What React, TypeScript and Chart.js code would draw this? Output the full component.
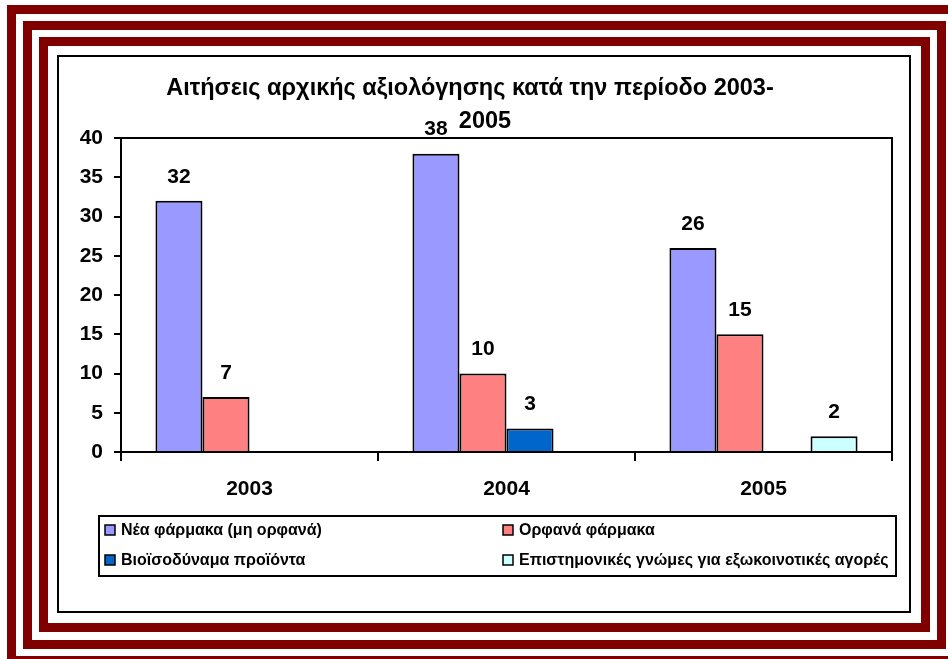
import React, { useEffect, useRef } from "react";
import { Chart, registerables } from "chart.js";

Chart.register(...registerables);

const categories = ["2003", "2004", "2005"];
const newDrugs = [32, 38, 26];
const orphanDrugs = [7, 10, 15];
const biosimilars = [0, 3, 0];
const scientificOpinions = [0, 0, 2];
const seriesLabels = [
  "Νέα φάρμακα (μη ορφανά)",
  "Ορφανά φάρμακα",
  "Βιοϊσοδύναμα προϊόντα",
  "Επιστημονικές γνώμες για εξωκοινοτικές αγορές",
];
const seriesColors = ["#9999FF", "#FF8080", "#0066CC", "#CCFFFF"];
const titleLines = ["Αιτήσεις αρχικής αξιολόγησης κατά την περίοδο 2003-", "2005"];
const yMin = 0;
const yMax = 40;
const yStep = 5;

const FONT = "'Liberation Sans', Arial, sans-serif";

const decorPlugin = {
  id: "decor",
  beforeDraw(chart: any) {
    const ctx = chart.ctx;
    ctx.save();
    ctx.fillStyle = "#FFFFFF";
    ctx.fillRect(0, 0, chart.width, chart.height);
    // maroon frame stripes
    ctx.strokeStyle = "#800000";
    ctx.lineWidth = 9;
    ctx.strokeRect(11.5, 9.5, 946, 651);
    ctx.strokeRect(27.5, 25.5, 914, 619);
    ctx.strokeRect(43.5, 41.5, 882, 586);
    // black chart box
    ctx.strokeStyle = "#000000";
    ctx.lineWidth = 2;
    ctx.strokeRect(58, 56, 852, 556);
    // title
    ctx.fillStyle = "#000";
    ctx.font = `bold 23.5px ${FONT}`;
    ctx.textAlign = "center";
    ctx.textBaseline = "middle";
    ctx.fillText(titleLines[0], 470, 89);
    ctx.fillText(titleLines[1], 485, 122);
    // legend
    ctx.lineWidth = 2;
    ctx.strokeRect(99, 516, 797, 60);
    ctx.font = `bold 16px ${FONT}`;
    ctx.textAlign = "left";
    const colX = [105, 503];
    const rowY = [530, 560];
    chart.data.datasets.forEach((ds: any, i: number) => {
      const x = colX[i % 2];
      const y = rowY[Math.floor(i / 2)];
      ctx.fillStyle = ds.backgroundColor;
      ctx.fillRect(x, y - 5, 10, 10);
      ctx.lineWidth = 1.5;
      ctx.strokeStyle = "#000";
      ctx.strokeRect(x, y - 5, 10, 10);
      ctx.fillStyle = "#000";
      ctx.fillText(ds.label, x + 16, y + 1);
    });
    ctx.restore();
  },
  afterDraw(chart: any) {
    const ctx = chart.ctx;
    const a = chart.chartArea;
    ctx.save();
    ctx.strokeStyle = "#000";
    ctx.lineWidth = 2;
    ctx.beginPath();
    ctx.moveTo(a.left, a.top);
    ctx.lineTo(a.right, a.top);
    ctx.lineTo(a.right, a.bottom + 1);
    ctx.stroke();
    ctx.restore();
  },
  afterDatasetsDraw(chart: any) {
    const ctx = chart.ctx;
    ctx.save();
    ctx.fillStyle = "#000";
    ctx.font = `bold 21px ${FONT}`;
    ctx.textAlign = "center";
    ctx.textBaseline = "middle";
    chart.data.datasets.forEach((ds: any, i: number) => {
      const meta = chart.getDatasetMeta(i);
      meta.data.forEach((el: any, j: number) => {
        const v = ds.data[j];
        if (v === null || v === undefined) return;
        ctx.fillText(String(v), el.x, el.y - 24);
      });
    });
    ctx.restore();
  },
};

export default function App() {
  const ref = useRef<HTMLCanvasElement | null>(null);
  useEffect(() => {
    if (!ref.current) return;
    const series = [newDrugs, orphanDrugs, biosimilars, scientificOpinions];
    const chart = new Chart(ref.current, {
      type: "bar",
      data: {
        labels: categories,
        datasets: series.map((vals, i) => ({
          label: seriesLabels[i],
          data: vals.map((v) => (v === 0 ? null : v)),
          backgroundColor: seriesColors[i],
          borderColor: "#000000",
          borderWidth: 2,
          categoryPercentage: 0.732,
          barPercentage: 1,
        })),
      },
      options: {
        responsive: false,
        animation: false,
        devicePixelRatio: 1,
        layout: { padding: { left: 0, top: 138, right: 56, bottom: 147 } },
        plugins: {
          legend: { display: false },
          title: { display: false },
          tooltip: { enabled: false },
        },
        scales: {
          x: {
            afterFit: (s: any) => {
              s.height = 60;
            },
            grid: {
              offset: true,
              drawOnChartArea: false,
              drawTicks: true,
              tickLength: 9,
              color: "#000",
              lineWidth: 2,
            },
            border: { display: true, color: "#000", width: 2 },
            ticks: {
              color: "#000",
              font: { family: FONT, size: 21, weight: "bold" },
              padding: 16,
            },
          },
          y: {
            min: yMin,
            max: yMax,
            afterFit: (s: any) => {
              s.width = 121;
            },
            grid: {
              drawOnChartArea: false,
              drawTicks: true,
              tickLength: 7,
              color: "#000",
              lineWidth: 2,
            },
            border: { display: true, color: "#000", width: 2 },
            ticks: {
              stepSize: yStep,
              color: "#000",
              font: { family: FONT, size: 21, weight: "bold" },
              padding: 11,
            },
          },
        },
      },
      plugins: [decorPlugin],
    } as any);
    return () => chart.destroy();
  }, []);
  return (
    <div style={{ position: "absolute", left: 0, top: 0, width: 948, height: 659 }}>
      <canvas ref={ref} width={948} height={659} />
    </div>
  );
}
